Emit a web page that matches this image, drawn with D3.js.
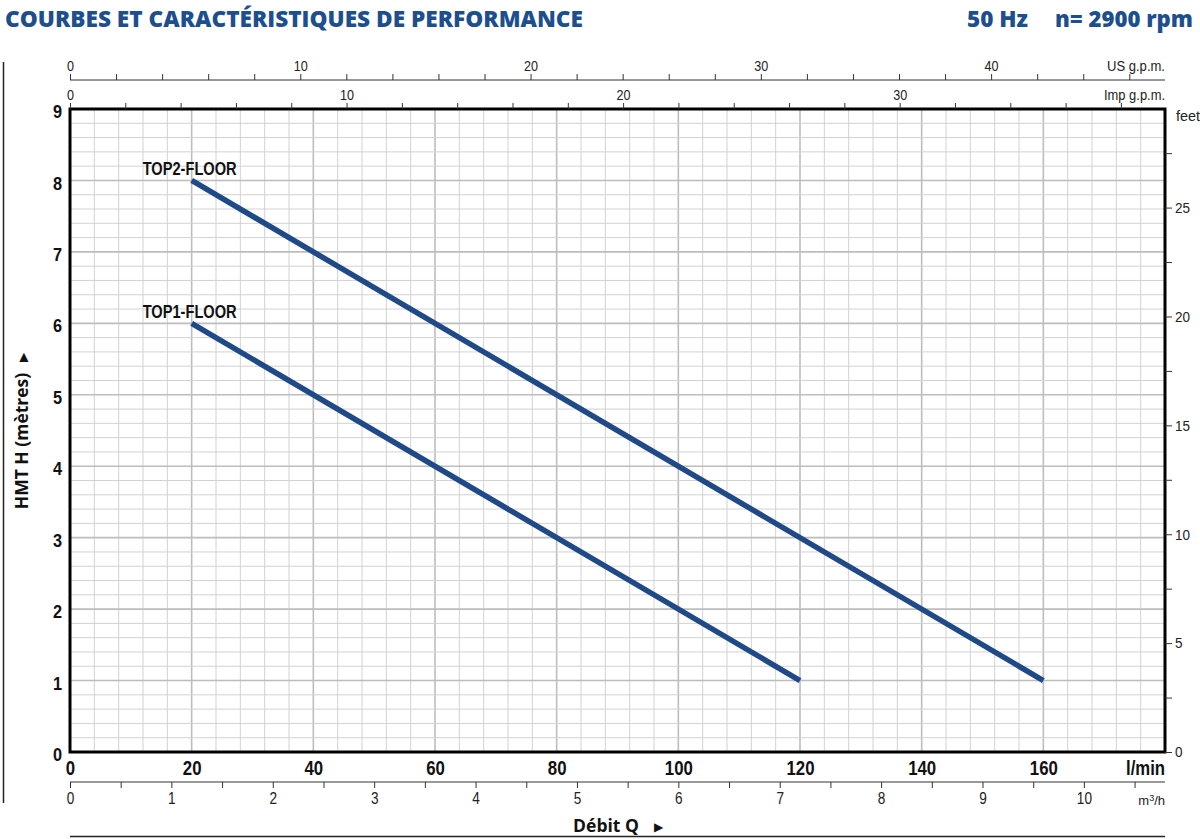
<!DOCTYPE html>
<html lang="fr">
  <head>
    <meta charset="UTF-8" />
    <title>Courbes et caractéristiques de performance</title>
    <script src="https://d3js.org/d3.v7.min.js"></script>
    <style>
      body {
        margin: 0;
        background: #fff;
      }
      .narrow {
        font-family: 'Liberation Sans', Arial, sans-serif;
      }
      .grid-minor {
        stroke: #d2d2d2;
        stroke-width: 1;
      }
      .grid-major {
        stroke: #bdbdbd;
        stroke-width: 1.6;
      }
    </style>
  </head>
  <body>
    <div id="chart"></div>
    <script>
      // data (l/min vs metres)
      const top2Flow = [20, 160];
      const top2Head = [8, 1];
      const top1Flow = [20, 120];
      const top1Head = [6, 1];
      const curveNames = ['TOP2-FLOOR', 'TOP1-FLOOR'];

      // tick labels
      const lminTicks = [0, 20, 40, 60, 80, 100, 120, 140, 160];
      const headTicks = [0, 1, 2, 3, 4, 5, 6, 7, 8, 9];
      const usTicks = [0, 10, 20, 30, 40];
      const impTicks = [0, 10, 20, 30];
      const m3hTicks = [0, 1, 2, 3, 4, 5, 6, 7, 8, 9, 10];
      const feetTicks = [0, 5, 10, 15, 20, 25];

      const W = 1200;
      const H = 839;
      const plot = { left: 70, right: 1165, top: 109, bottom: 752 };
      const blue = '#1f4a87';
      const titleBlue = '#1d4f8e';

      const svg = d3
        .select('#chart')
        .append('svg')
        .attr('width', W)
        .attr('height', H);

      const qMax = 180;
      const hMax = 9;

      const x = d3.scaleLinear().domain([0, qMax]).range([plot.left, plot.right]);
      const y = d3.scaleLinear().domain([0, hMax]).range([plot.bottom, plot.top]);

      // secondary units
      const xUS = d3.scaleLinear().domain([0, qMax / 3.78541]).range([plot.left, plot.right]);
      const xImp = d3.scaleLinear().domain([0, qMax / 4.54609]).range([plot.left, plot.right]);
      const xM3h = d3.scaleLinear().domain([0, (qMax * 60) / 1000]).range([plot.left, plot.right]);
      const yFt = d3.scaleLinear().domain([0, hMax / 0.3048]).range([plot.bottom, plot.top]);

      // squeeze axis labels a bit, the sheet uses a condensed face
      function squeeze(sel, f) {
        sel.each(function () {
          const t = d3.select(this);
          const tx = +t.attr('x') || 0;
          t.attr('transform', `translate(${tx},0) scale(${f},1)`).attr('x', 0);
        });
      }

      // title
      const titleFont = (sel) =>
        sel
          .attr('fill', titleBlue)
          .style('font-family', "'Open Sans', sans-serif")
          .style('font-weight', 800)
          .style('font-size', '23px')
          .attr('lengthAdjust', 'spacingAndGlyphs');

      svg
        .append('text')
        .attr('x', 5)
        .attr('y', 27)
        .call(titleFont)
        .attr('textLength', 578)
        .text('COURBES ET CARACTÉRISTIQUES DE PERFORMANCE');

      svg
        .append('text')
        .attr('x', 967)
        .attr('y', 27)
        .call(titleFont)
        .attr('textLength', 61)
        .text('50 Hz');

      svg
        .append('text')
        .attr('x', 1055)
        .attr('y', 27)
        .call(titleFont)
        .attr('textLength', 138)
        .text('n= 2900 rpm');

      // left rule
      svg
        .append('line')
        .attr('x1', 3.5)
        .attr('x2', 3.5)
        .attr('y1', 62)
        .attr('y2', 803)
        .attr('stroke', '#222')
        .attr('stroke-width', 1.5);

      // grid
      const grid = svg.append('g');
      grid
        .selectAll('line.gv')
        .data(d3.range(0, qMax + 0.1, 4))
        .enter()
        .append('line')
        .attr('class', (d) => (d % 20 === 0 ? 'grid-major' : 'grid-minor'))
        .attr('x1', (d) => x(d))
        .attr('x2', (d) => x(d))
        .attr('y1', plot.top)
        .attr('y2', plot.bottom);

      grid
        .selectAll('line.gh')
        .data(d3.range(0, 45 + 1).map((i) => i / 5))
        .enter()
        .append('line')
        .attr('class', (d) => (Math.abs(d - Math.round(d)) < 1e-6 ? 'grid-major' : 'grid-minor'))
        .attr('x1', plot.left)
        .attr('x2', plot.right)
        .attr('y1', (d) => y(d))
        .attr('y2', (d) => y(d));

      // frame
      svg
        .append('rect')
        .attr('x', plot.left)
        .attr('y', plot.top)
        .attr('width', plot.right - plot.left)
        .attr('height', plot.bottom - plot.top)
        .attr('fill', 'none')
        .attr('stroke', '#000')
        .attr('stroke-width', 3);

      // left axis (metres)
      const yAxis = svg
        .append('g')
        .attr('transform', `translate(${plot.left},0)`)
        .call(d3.axisLeft(y).tickValues(headTicks).tickSize(0).tickPadding(8));
      yAxis.select('.domain').remove();
      yAxis
        .selectAll('text')
        .attr('class', 'narrow')
        .attr('dy', '0.45em')
        .style('font-size', '19px')
        .style('font-weight', 700)
        .attr('fill', '#111')
        .call(squeeze, 0.86);

      // bottom axis (l/min)
      const xAxis = svg
        .append('g')
        .attr('transform', `translate(0,${plot.bottom})`)
        .call(d3.axisBottom(x).tickValues(lminTicks).tickSize(0).tickPadding(8));
      xAxis.select('.domain').remove();
      xAxis
        .selectAll('text')
        .attr('class', 'narrow')
        .style('font-size', '21px')
        .style('font-weight', 700)
        .attr('fill', '#111')
        .call(squeeze, 0.8);

      svg
        .append('text')
        .attr('class', 'narrow')
        .attr('x', plot.right)
        .attr('y', 775)
        .attr('text-anchor', 'end')
        .style('font-size', '21px')
        .style('font-weight', 700)
        .attr('fill', '#111')
        .attr('textLength', 39)
        .attr('lengthAdjust', 'spacingAndGlyphs')
        .text('l/min');

      // m3/h axis
      const m3Axis = svg
        .append('g')
        .attr('transform', 'translate(0,782)')
        .call(
          d3
            .axisBottom(xM3h)
            .tickValues(d3.range(0, 10.51, 0.5))
            .tickSize(6)
            .tickFormat((d) => (m3hTicks.includes(d) ? d : ''))
            .tickPadding(5),
        );
      m3Axis.select('.domain').attr('d', `M${plot.left},0H${plot.right}`).attr('stroke', '#333');
      m3Axis.selectAll('.tick line').attr('stroke', '#333');
      m3Axis
        .selectAll('text')
        .attr('class', 'narrow')
        .style('font-size', '16px')
        .attr('fill', '#222')
        .call(squeeze, 0.85);

      svg
        .append('text')
        .attr('class', 'narrow')
        .attr('x', plot.right)
        .attr('y', 805)
        .attr('text-anchor', 'end')
        .style('font-size', '13px')
        .attr('fill', '#222')
        .html('m<tspan dy="-4" font-size="9">3</tspan><tspan dy="4">/h</tspan>');

      // US g.p.m. axis
      const usAxis = svg
        .append('g')
        .attr('transform', 'translate(0,80)')
        .call(
          d3
            .axisTop(xUS)
            .tickValues(d3.range(0, 46.1, 2))
            .tickSize(6)
            .tickFormat((d) => (usTicks.includes(d) ? d : ''))
            .tickPadding(3),
        );
      usAxis.select('.domain').attr('d', `M${plot.left},0H${plot.right}`).attr('stroke', '#333');
      usAxis.selectAll('.tick line').attr('stroke', '#333');
      usAxis
        .selectAll('text')
        .attr('class', 'narrow')
        .style('font-size', '14px')
        .attr('fill', '#222')
        .call(squeeze, 0.9);

      svg
        .append('text')
        .attr('class', 'narrow')
        .attr('x', plot.right)
        .attr('y', 71)
        .attr('text-anchor', 'end')
        .style('font-size', '14px')
        .attr('fill', '#222')
        .attr('textLength', 58)
        .attr('lengthAdjust', 'spacingAndGlyphs')
        .text('US g.p.m.');

      // Imp g.p.m. axis, sits on top of the frame
      const impAxis = svg
        .append('g')
        .attr('transform', `translate(0,${plot.top})`)
        .call(
          d3
            .axisTop(xImp)
            .tickValues(d3.range(0, 38.1, 2))
            .tickSize(6)
            .tickFormat((d) => (impTicks.includes(d) ? d : ''))
            .tickPadding(3),
        );
      impAxis.select('.domain').remove();
      impAxis.selectAll('.tick line').attr('stroke', '#333');
      impAxis
        .selectAll('text')
        .attr('class', 'narrow')
        .style('font-size', '14px')
        .attr('fill', '#222')
        .call(squeeze, 0.9);

      svg
        .append('text')
        .attr('class', 'narrow')
        .attr('x', plot.right)
        .attr('y', 100)
        .attr('text-anchor', 'end')
        .style('font-size', '14px')
        .attr('fill', '#222')
        .attr('textLength', 61)
        .attr('lengthAdjust', 'spacingAndGlyphs')
        .text('Imp g.p.m.');

      // feet axis on the right
      const ftAxis = svg
        .append('g')
        .attr('transform', `translate(${plot.right},0)`)
        .call(
          d3
            .axisRight(yFt)
            .tickValues(d3.range(0, 29.6, 2.5))
            .tickSize(7)
            .tickFormat((d) => (feetTicks.includes(d) ? d : ''))
            .tickPadding(3),
        );
      ftAxis.select('.domain').remove();
      ftAxis.selectAll('.tick line').attr('stroke', '#333');
      ftAxis
        .selectAll('text')
        .attr('class', 'narrow')
        .style('font-size', '15px')
        .attr('fill', '#222')
        .call(squeeze, 0.9);

      svg
        .append('text')
        .attr('class', 'narrow')
        .attr('x', 1176)
        .attr('y', 121)
        .style('font-size', '15px')
        .attr('fill', '#222')
        .attr('textLength', 24)
        .attr('lengthAdjust', 'spacingAndGlyphs')
        .text('feet');

      // axis titles
      const axisTitle = (sel) =>
        sel
          .style('font-family', "'Open Sans', sans-serif")
          .style('font-weight', 700)
          .style('font-size', '17.5px')
          .attr('fill', '#111');

      svg
        .append('text')
        .attr('transform', 'translate(28,441) rotate(-90)')
        .attr('text-anchor', 'middle')
        .call(axisTitle)
        .text('HMT H (mètres)');

      svg
        .append('text')
        .attr('transform', 'translate(27,357) rotate(-90)')
        .attr('text-anchor', 'middle')
        .style('font-size', '12px')
        .attr('fill', '#111')
        .text('▶');

      svg
        .append('text')
        .attr('x', 606)
        .attr('y', 832)
        .attr('text-anchor', 'middle')
        .call(axisTitle)
        .text('Débit Q');

      svg
        .append('text')
        .attr('x', 658)
        .attr('y', 831)
        .attr('text-anchor', 'middle')
        .style('font-size', '12px')
        .attr('fill', '#111')
        .text('▶');

      svg
        .append('line')
        .attr('x1', plot.left)
        .attr('x2', plot.right)
        .attr('y1', 836.5)
        .attr('y2', 836.5)
        .attr('stroke', '#222')
        .attr('stroke-width', 1.5);

      // curves
      const curves = [
        { name: curveNames[0], q: top2Flow, h: top2Head },
        { name: curveNames[1], q: top1Flow, h: top1Head },
      ];

      const line = d3
        .line()
        .x((d) => x(d[0]))
        .y((d) => y(d[1]));

      svg
        .selectAll('path.curve')
        .data(curves)
        .enter()
        .append('path')
        .attr('class', 'curve')
        .attr('d', (c) => line(d3.zip(c.q, c.h)))
        .attr('fill', 'none')
        .attr('stroke', blue)
        .attr('stroke-width', 5.5);

      svg
        .selectAll('text.curve-label')
        .data(curves)
        .enter()
        .append('text')
        .attr('class', 'curve-label narrow')
        .attr('x', (c) => x(c.q[0]) - 2)
        .attr('y', (c) => y(c.h[0]) - 5)
        .attr('text-anchor', 'middle')
        .style('font-size', '19px')
        .style('font-weight', 700)
        .attr('fill', '#111')
        .attr('textLength', 94)
        .attr('lengthAdjust', 'spacingAndGlyphs')
        .text((c) => c.name);
    </script>
  </body>
</html>
